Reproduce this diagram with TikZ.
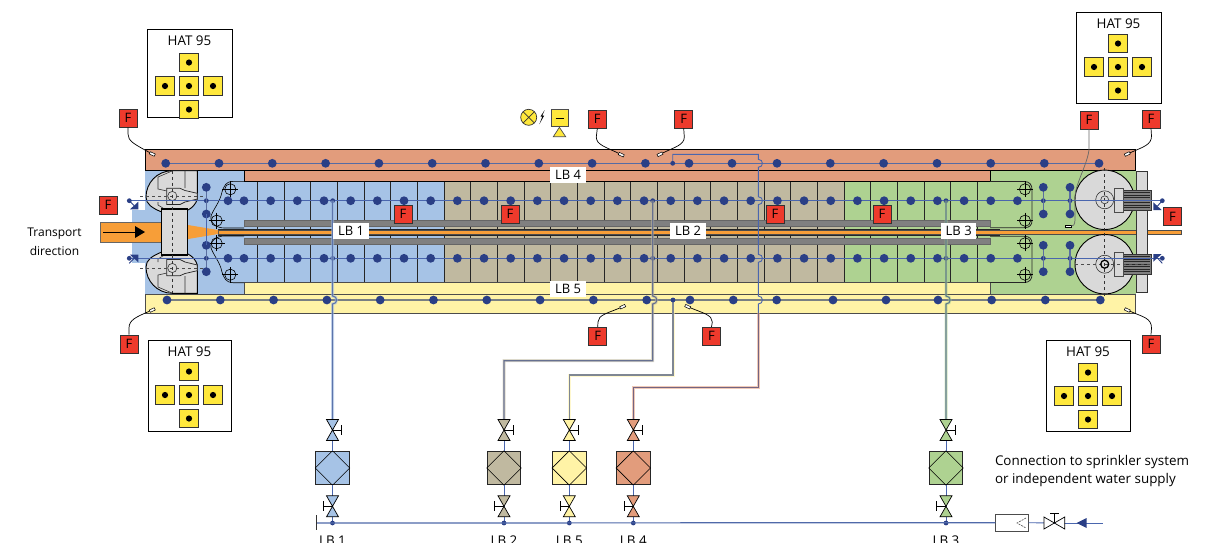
\documentclass[tikz,border=0pt]{standalone}
\usepackage{xcolor}
\usepackage{fontspec}
\setmainfont{Open Sans}
\usetikzlibrary{calc}
\definecolor{zoneblue}{HTML}{A6C3E6}
\definecolor{zonetan}{HTML}{C0B9A0}
\definecolor{zoneyellow}{HTML}{FFF3A6}
\definecolor{zonered}{HTML}{E29C7C}
\definecolor{zonegreen}{HTML}{AED291}
\definecolor{dotblue}{HTML}{2A3F86}
\definecolor{lineblue}{HTML}{4A66AE}
\definecolor{steel}{HTML}{D9D9D9}
\definecolor{firered}{HTML}{EE3A2C}
\definecolor{hatyellow}{HTML}{FFE83C}
\definecolor{striporange}{HTML}{F79E38}
\tikzset{>=stealth,
  zone/.style={draw=black,line width=0.7pt},
  firebox/.style={draw=black!80,fill=firered,line width=0.8pt,minimum size=18pt,inner sep=0pt,font=\fontsize{13}{13}\selectfont},
  capsule/.style={draw=black,fill=white,line width=0.5pt,minimum width=5.5pt,minimum height=2.5pt,inner sep=0pt},
  wire/.style={black,line width=0.7pt},
  tagbox/.style={fill=white,minimum width=35.5pt,minimum height=16pt,inner sep=0pt,font=\fontsize{13}{13}\selectfont},
  pipe/.style={draw=#1!40!dotblue,line width=1.1pt,preaction={draw=#1,opacity=0.55,line width=3pt}},
  rowline/.style={lineblue,line width=0.9pt},
  plain/.style={font=\fontsize{13.4}{13.4}\selectfont}}
\newcommand{\bigdot}[2]{\fill[dotblue] (#1,#2) circle (4.4);}
\newcommand{\smalldot}[2]{\fill[dotblue] (#1,#2) circle (2.4);}
\newcommand{\hop}[2]{-- (#1,#2-4) .. controls (#1+5.5,#2-4) and (#1+5.5,#2+4) .. (#1,#2+4)}
\newcommand{\hatsquare}[3]{\node[draw=black!80,fill=hatyellow,line width=0.8pt,minimum size=18.5pt,inner sep=0pt] (#1) at (#2,#3) {};
  \fill[black] (#2,#3) circle (3.1);}
\newcommand{\hatbox}[6]{\node[draw=black,line width=0.8pt,minimum width=#3pt,minimum height=#4pt,inner sep=0pt] (#1) at ($(#2)$) {};
  \node[plain] (#1t) at ($(#1.north)+(0,#6)$) {HAT 95};
  \coordinate (#1c) at (#5);
  \foreach \dx/\dy in {0/0,0/-23.5,0/23.5,-24/0,24/0} {
    \path let \p1=(#1c) in \pgfextra{\pgfmathsetmacro{\hx}{\x1+\dx}\pgfmathsetmacro{\hy}{-\y1+\dy}\global\let\hx\hx\global\let\hy\hy};
    \hatsquare{#1s\dx\dy}{\hx}{\hy}
  }}
\newcommand{\vvalve}[4]{\draw[black,line width=0.7pt,fill=#3] (#1-6,#2-10.5) -- (#1+6,#2-10.5) -- (#1-6,#2+10.5) -- (#1+6,#2+10.5) -- cycle;
  \draw[black,line width=0.7pt] (#1,#2) -- (#1+#4*9.3,#2) (#1+#4*9.3,#2-5) -- (#1+#4*9.3,#2+5);}
\begin{document}
\begin{tikzpicture}[x=1pt,y=-1pt]
  \useasboundingbox (0,0) rectangle (1205,542);
  % zones
  \fill[zoneblue] (131.7,210) rectangle (146,263);
  \fill[zoneblue] (145,170) rectangle (244,294);
  \fill[zoneblue] (244,181) rectangle (444,283);
  \fill[zonetan] (444,181.7) rectangle (844,282.3);
  \fill[zonegreen] (844,181.7) rectangle (990,282.3);
  \fill[zonegreen] (990,170) rectangle (1136,294);
  \draw[zone,fill=zonered] (145,149.5) rectangle (1135,170);
  \draw[zone,fill=zonered] (244,170) rectangle (990,181.7);
  \draw[zone,draw=black!70,fill=zoneyellow] (145,294) rectangle (1135,313);
  \draw[zone,draw=black!70,fill=zoneyellow] (244,282.3) rectangle (990,294);
  \foreach \k in {0,...,27}
    \draw[black!85,line width=0.7pt] ({257.3+26.67*\k},181.7) -- ({257.3+26.67*\k},282.3);
  % centre strip
  \draw[black!60,fill=black!50,line width=0.5pt] (244,220) rectangle (990,226);
  \draw[black!60,fill=black!50,line width=0.5pt] (244,238.3) rectangle (990,244.3);
  \fill[black!85] (218,228.5) rectangle (1000,236);
  \draw[black!70,fill=striporange,line width=0.5pt] (218,230.6) rectangle (1181,234.3);
  \fill[striporange] (188,225) -- (218,230) -- (218,234) -- (188,239) -- cycle;
  \draw[black!60,fill=striporange,line width=0.4pt] (100,222) rectangle (161.7,242);
  \draw[black,line width=0.6pt] (103,232) -- (136,232);
  \fill[black] (145,232) -- (135,226) -- (135,238) -- cycle;
  % wiring round the nozzles
  \foreach \mir/\off in {1/0,-1/464} {
    \begin{scope}[cm={1,0,0,\mir,(0,\off)}]
      \draw[black,line width=0.6pt] (244,181.3) -- (233,181.3) .. controls (226,181.3) and (224,186) .. (222,192) .. controls (220,202) and (214,208) .. (211,216) .. controls (209,222) and (216,228) .. (224,228) -- (244,228);
      \draw[black!85,line width=0.8pt] (990,181.5) -- (1024,181.5) .. controls (1030,181.5) and (1032,185) .. (1032,190) -- (1032,220) .. controls (1032,225) and (1030,227.7) .. (1024,227.7) -- (990,227.7);
      \foreach \cx/\cy in {230.3/189.3,216.7/220.7,1025/189.3,1025/220.7} {
        \draw[black,line width=0.6pt] (\cx,\cy) circle (5.6);
        \draw[black,line width=0.6pt] (\cx-8,\cy) -- (\cx+8,\cy) (\cx,\cy-8) -- (\cx,\cy+8);
      }
    \end{scope}
  }
  % left drive rollers
  \foreach \mir/\off in {1/0,-1/464} {
    \begin{scope}[cm={1,0,0,\mir,(0,\off)}]
      \draw[black,line width=0.9pt,fill=steel] (172,170.7) -- (197.3,170.7) -- (197.3,199) .. controls (196,204) and (192,208) .. (188,210) -- (161.7,212) .. controls (152,208) and (146,204) .. (146,197) .. controls (146,183) and (157,171) .. (172,170.7);
      \draw[black!80,line width=0.6pt] (172,171) -- (158,177) -- (158,189) -- (167,191) (158,202) -- (158,205) -- (166,210) (185,170.7) -- (185,188);
      \draw[black!85,line width=0.7pt,fill=steel] (166.7,188.3) -- (180,188.3) -- (185,190.5) -- (197.3,193.3) -- (197.3,199) -- (185,202) -- (180,204.5) -- (166.7,204.5) -- cycle;
      \draw[black!80,line width=0.6pt] (172.3,196) circle (4.6);
      \draw[black!70,dashed,line width=0.8pt] (140,196) -- (205,196);
    \end{scope}
  }
  \draw[black,line width=1.2pt,fill=steel] (161.7,209) rectangle (187.7,255);
  \draw[black!80,dashed,line width=0.7pt] (172.3,170.7) -- (172.3,293.3);
  % right rollers and motors
  \draw[black!80,fill=steel,line width=0.7pt] (1136.7,171.7) rectangle (1147.3,292.3);
  \foreach \mir/\off in {1/0,-1/464} {
    \begin{scope}[cm={1,0,0,\mir,(0,\off)}]
      \draw[black,line width=0.9pt,fill=steel] (1104.7,199.8) circle (29.7);
      \draw[black!80,line width=0.6pt] (1104.7,199.8) circle (9);
      \draw[black!80,line width=0.6pt] (1104.7,199.8) circle (4);
      \draw[black!80,fill=black!50,line width=0.6pt] (1123.3,190) rectangle (1151.7,210);
      \foreach \ry in {192.5,195,197.5,200,202.5,205,207.5}
        \draw[black!85,line width=0.6pt] (1123.3,\ry) -- (1150,\ry);
      \draw[black!70,fill=steel,line width=0.8pt] (1114,188) rectangle (1123.3,212);
      \draw[black!70,dashed,line width=0.8pt] (1075,200) -- (1152,200);
      \draw[black!80,dashed,line width=0.7pt] (1104.7,168) -- (1104.7,231);
    \end{scope}
  }
  \draw[black,line width=1.2pt] (1104.7,264.2) circle (4);
  % sprinkler rows
  \draw[rowline,draw=lineblue!80!gray] (165.7,163.3) -- (1099,163.3);
  \draw[black!35!lineblue,line width=1.4pt,opacity=0.65] (167,300) -- (1100.3,300);
  \draw[rowline] (129.3,200.7) -- (1162.3,200.7);
  \draw[rowline] (129.3,258.3) -- (1162.3,258.3);
  \foreach \k in {0,...,9} {\bigdot{165.7+53.3*\k}{163.3}}
  \foreach \px in {689,732,777,830.3,883.6,937,990.7,1044.3,1099} {\bigdot{\px}{163.3}}
  \foreach \k in {0,...,9} {\bigdot{167+53.3*\k}{300}}
  \foreach \px in {690,733.3,776.7,833,886,938,991.7,1045.3,1100.3} {\bigdot{\px}{300}}
  \foreach \ry in {200.7,258.3} {
    \bigdot{228}{\ry}
    \foreach \k in {0,...,29} {\bigdot{244+26.67*\k}{\ry}}
    \foreach \px in {332.7,652.7,946,206.3,1043.3,1070,129.3,1162.3} {\smalldot{\px}{\ry}}
  }
  \foreach \px in {206.3,1043.3,1070} {
    \draw[rowline,draw=lineblue!70!gray,line width=1.2pt] (\px,187.3) -- (\px,214) (\px,245.3) -- (\px,271.7);
    \foreach \py in {187.3,214,245.3,271.7} {\bigdot{\px}{\py}}
  }
  \draw[rowline] (206.3,214) -- (206.3,245.3);
  % nozzle heads at the ends
  \foreach \mir/\off in {1/0,-1/464} {
    \begin{scope}[cm={1,0,0,\mir,(0,\off)}]
      \fill[dotblue] (130,209.3) -- (138.3,201.7) -- (138.3,209.3) -- cycle;
      \draw[dotblue,line width=0.9pt] (129.3,200.7) -- (134,205.5);
      \fill[dotblue] (1153.3,202.3) -- (1161.7,210) -- (1153.3,210) -- cycle;
      \draw[dotblue,line width=0.9pt] (1162.3,200.7) -- (1157.5,206);
    \end{scope}
  }
  % valve stations
  \foreach \id/\x/\col in {1/332.5/zoneblue,2/504/zonetan,5/569.3/zoneyellow,4/633.3/zonered,3/946/zonegreen} {
    \node[draw=black!85,fill=\col,line width=0.9pt,minimum size=33.5pt,inner sep=0pt] (hx\id) at (\x,468) {};
    \draw[black,line width=0.6pt] (hx\id.north) -- (hx\id.east) -- (hx\id.south) -- (hx\id.west) -- cycle;
    \coordinate (vu\id) at (\x,430);
    \coordinate (vl\id) at (\x,506.3);
    \coordinate (tap\id) at (\x,523);
    \draw[rowline] (vu\id) -- (hx\id);
    \draw[rowline] (hx\id) -- (vl\id);
    \draw[rowline] (vl\id) -- (tap\id);
  }
  \draw[pipe=zoneblue] (332.5,200.7) \hop{332.5}{300} -- (vu1);
  \draw[pipe=zonetan] (652.7,200.7) \hop{652.7}{300} -- (652.7,360.7) -- (504,360.7) -- (vu2);
  \draw[pipe=zonegreen] (946,200.7) \hop{946}{300} -- (vu3);
  \draw[rowline] (672.7,163.3) -- (672.7,154.3) -- (758.3,154.3) \hop{758.3}{163.3} \hop{758.3}{200.7} \hop{758.3}{258.3} \hop{758.3}{300} -- (758.3,313);
  \draw[pipe=zonered] (758.3,313) -- (758.3,387.7) -- (633.3,387.7) -- (vu4);
  \draw[pipe=zoneyellow] (673,300) -- (673,375) -- (569.3,375) -- (vu5);
  \smalldot{672.7}{163.3}
  \smalldot{673}{300}
  \foreach \id/\x/\col in {1/332.5/zoneblue,2/504/zonetan,5/569.3/zoneyellow,4/633.3/zonered,3/946/zonegreen} {
    \vvalve{\x}{430}{\col}{1}
    \vvalve{\x}{506.3}{\col}{-1}
    \smalldot{\x}{523}
    \node[plain,anchor=base] (tag\id) at (\x,545) {LB \id};
  }
  % water supply
  \node[draw=black!70,fill=white,line width=0.7pt,minimum width=32.5pt,minimum height=16.4pt,inner sep=0pt] (chk) at (1012,522.7) {};
  \draw[black!70,line width=0.6pt,dashed,dash pattern=on 2pt off 1pt] (1026,518) -- (1017,523) -- (1026,528);
  \coordinate (gate) at (1054.3,523);
  \coordinate (mainend) at (1103.3,523);
  \draw[lineblue!90!gray,line width=1.2pt] (316,523) -- (chk.west);
  \draw[black!80,line width=1pt] (316,515) -- (316,530);
  \draw[rowline] (chk.east) -- (gate);
  \draw[rowline] (gate) -- (mainend);
  \draw[black,line width=0.7pt,fill=white] (1044,517) -- (1044,529) -- (1064.7,517) -- (1064.7,529) -- cycle;
  \draw[black,line width=0.7pt] (gate) -- (1054.3,513.5) (1050,513.5) -- (1058.5,513.5);
  \fill[dotblue] (1076.7,523) -- (1086.7,518) -- (1086.7,528) -- cycle;
  \node[plain,anchor=west,align=left] (supply) at (991.5,471) {Connection to sprinkler system\\[4.6pt]or independent water supply};
  \node[font=\fontsize{12}{12}\selectfont,align=center] (dirtext) at (54.5,241.5) {Transport\\[7pt]direction};
  % section labels
  \node[tagbox] (lb1) at (351,231.2) {LB 1};
  \node[tagbox] (lb2) at (688,231.2) {LB 2};
  \node[tagbox] (lb3) at (958.7,231.2) {LB 3};
  \node[tagbox] (lb4) at (568,175) {LB 4};
  \node[tagbox] (lb5) at (568,288.7) {LB 5};
  % hand extinguishers
  \hatbox{hat1}{189.5,73}{85}{88}{189,86}{12}
  \hatbox{hat2}{1118.5,57.5}{85}{91}{1118,67}{12}
  \hatbox{hat3}{189.5,385.5}{83}{91}{189,395}{12}
  \hatbox{hat4}{1088,385.5}{84}{91}{1088,396}{12}
  % alarm
  \draw[black!80,fill=hatyellow,line width=0.7pt] (528.7,117.3) circle (8);
  \draw[black!80,line width=0.7pt] (523,111.6) -- (534.4,123) (534.4,111.6) -- (523,123);
  \fill[black] (544.7,110) -- (540.5,116.5) -- (542.3,116.5) -- (539.3,124.3) -- (544.2,115.5) -- (542.3,115.5) -- cycle;
  \node[draw=black!70,fill=hatyellow,line width=0.7pt,minimum width=17.5pt,minimum height=17.5pt,inner sep=0pt] (bell) at (559.6,118) {};
  \draw[black,line width=0.8pt] (555.5,118.3) -- (563.7,118.3);
  \draw[black!70,fill=hatyellow,line width=0.7pt] (553.3,136.7) -- (565.7,136.7) -- (559.4,127.3) -- cycle;
  % fire sensors
  \foreach \nm/\fx/\fy in {fa/128/118,fb/108/205,fc/129/344,fd/597.3/119,fe/683.7/119,ff/403/214,fg/510/214,fh/775/214,fi/882/214,fj/1089/120,fk/1151/119,fl/1172.5/216.7,fm/1151/344,fn/597.7/336.3,fo/711.5/336.3}
    \node[firebox] (\nm) at (\fx,\fy) {F};
  \node[capsule,rotate=-25] (sa) at (152.3,154) {};
  \node[capsule,rotate=25] (sc) at (152.3,310) {};
  \node[capsule,rotate=-25] (sd) at (621.3,154.7) {};
  \node[capsule,rotate=25] (se) at (660,154.3) {};
  \node[capsule,rotate=25] (sn) at (622.7,306.7) {};
  \node[capsule,rotate=-25] (so) at (687.7,306.7) {};
  \node[capsule,rotate=25] (sk) at (1127.3,154) {};
  \node[capsule,rotate=-25] (sm) at (1127.3,310) {};
  \node[capsule] (sj) at (1068.3,226) {};
  \draw[wire] (fa.south) -- (128,134) .. controls (128,141) and (134,144) .. (sa);
  \draw[wire] (fc.north) -- (129,328) .. controls (129,320) and (136,317) .. (sc);
  \draw[wire] (fd.south) -- (596.3,137) .. controls (596.3,145) and (606,147) .. (sd);
  \draw[wire] (fe.south) -- (684.3,137) .. controls (684.3,145) and (675,147) .. (se);
  \draw[wire] (fn.north) -- (598,322) .. controls (598,315) and (608,313) .. (sn);
  \draw[wire] (fo.north) -- (712.3,322) .. controls (712.3,315) and (703,313) .. (so);
  \draw[wire] (fk.south) -- (1151.5,136) .. controls (1151.5,145) and (1143,147) .. (sk);
  \draw[wire] (fm.north) -- (1151.5,328) .. controls (1151.5,318) and (1143,317) .. (sm);
  \draw[wire,draw=black!60] (fj.south) -- (1089,150) .. controls (1087,165) and (1075,185) .. (1075,197) -- (1075,218) .. controls (1075,226) and (1073,226) .. (sj);
\end{tikzpicture}
\end{document}
